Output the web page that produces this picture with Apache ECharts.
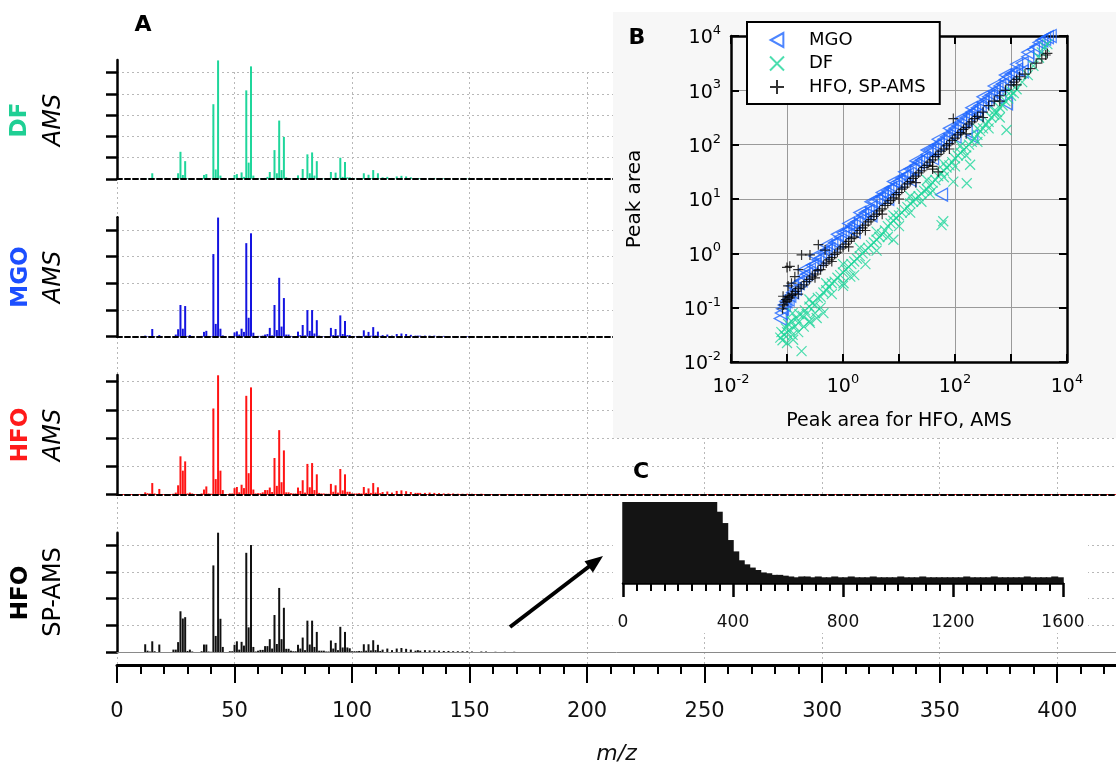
<!DOCTYPE html>
<html><head><meta charset="utf-8">
<script src="https://cdn.jsdelivr.net/npm/echarts@6/dist/echarts.min.js"></script>
<style>html,body{margin:0;padding:0;background:#fff}#c{width:1116px;height:770px}</style>
</head><body><div id="c"></div>
<script>
// ---------- Panel A : unit-mass spectra (arbitrary units, 1 unit = one y tick) ----------
const mz = [12,13,14,15,16,18,24,25,26,27,
  28,29,30,31,32,36,37,38,39,40,
  41,42,43,44,45,48,49,50,51,52,
  53,54,55,56,57,58,59,60,61,62,
  63,64,65,66,67,68,69,70,71,72,
  73,74,75,76,77,78,79,80,81,82,
  83,84,85,86,87,88,89,90,91,92,
  93,94,95,96,97,98,99,100,101,102,
  103,104,105,106,107,108,109,110,111,112,
  113,115,117,119,121,123,125,127,128,129,
  131,133,135,137,139,141,143,145,147,149,
  151,155,157,161,165,169];
const dfAMS = [.02,.01,.02,.27,.02,.03,.01,.05,.27,1.28,
  .19,.84,.03,.03,.02,.03,.19,.23,.03,.02,
  3.52,.45,5.58,.16,.03,.02,.02,.19,.23,.05,
  .31,.10,4.17,.77,5.30,.16,.02,.02,.03,.03,
  .05,.10,.33,.05,1.36,.27,2.75,.42,1.98,.08,
  .05,.02,.02,.02,.17,.05,.47,.04,1.16,.27,
  1.25,.16,.84,.04,.02,.02,.02,.02,.33,.05,
  .30,.05,1.00,.10,.80,.08,.08,.02,.02,.02,
  .03,.02,.27,.04,.20,.04,.42,.05,.27,.03,
  .08,.10,.05,.12,.15,.12,.08,.04,.04,.04,
  .04,.05,.05,.04,.03,.02,.02,.02,.02,.02,
  .01,.01,.01,.01,.01,.01];
const mgoAMS = [.04,.02,.02,.29,.02,.06,.01,.08,.28,1.19,
  .30,1.15,.03,.06,.02,.03,.18,.22,.03,.02,
  3.10,.48,4.47,.30,.05,.02,.02,.16,.20,.08,
  .30,.18,3.51,.71,3.88,.15,.02,.03,.03,.04,
  .08,.10,.33,.05,1.19,.25,2.21,.38,1.45,.08,
  .08,.03,.02,.02,.19,.06,.44,.05,1.00,.22,
  1.00,.12,.62,.04,.02,.02,.02,.02,.33,.06,
  .29,.05,.80,.10,.59,.06,.06,.02,.02,.02,
  .03,.02,.24,.04,.18,.04,.36,.05,.19,.03,
  .06,.08,.04,.10,.12,.10,.07,.04,.04,.04,
  .04,.04,.04,.03,.03,.02,.02,.02,.02,.02,
  .01,.01,.01,.01,.01,.01];
const hfoAMS = [.07,.04,.03,.40,.03,.19,.02,.06,.32,1.35,
  .84,1.17,.03,.06,.03,.03,.17,.28,.03,.02,
  3.05,.54,4.23,.84,.15,.03,.03,.22,.26,.07,
  .34,.22,3.50,.75,3.80,.17,.03,.04,.04,.07,
  .15,.15,.24,.08,1.29,.30,2.28,.43,1.56,.07,
  .07,.04,.03,.03,.24,.12,.50,.06,1.08,.25,
  1.11,.15,.71,.05,.03,.03,.02,.02,.37,.09,
  .32,.06,.90,.14,.71,.09,.09,.03,.03,.03,
  .04,.03,.26,.05,.21,.05,.40,.06,.25,.04,
  .08,.10,.06,.12,.14,.11,.08,.05,.05,.05,
  .05,.06,.05,.04,.03,.03,.03,.02,.02,.02,
  .02,.02,.01,.01,.01,.01];
const hfoSP = [.30,.06,.03,.41,.04,.29,.10,.10,.38,1.53,
  1.26,1.31,.05,.10,.03,.04,.29,.29,.03,.02,
  3.24,.61,4.46,1.25,.20,.04,.04,.28,.41,.10,
  .39,.25,3.71,.93,4.00,.20,.03,.06,.09,.09,
  .23,.23,.49,.14,1.39,.31,2.40,.49,1.66,.13,
  .13,.06,.04,.04,.28,.14,.55,.08,1.18,.29,
  1.18,.20,.76,.06,.06,.06,.03,.03,.44,.14,
  .35,.08,.95,.18,.76,.18,.15,.04,.04,.04,
  .05,.04,.30,.06,.30,.07,.45,.08,.28,.05,
  .10,.14,.08,.14,.16,.13,.10,.06,.08,.06,
  .08,.07,.07,.06,.05,.05,.04,.04,.04,.04,
  .03,.03,.03,.02,.02,.02];
const mzTicks = [0,50,100,150,200,250,300,350,400];

// ---------- Panel B : peak areas, [log10 x, log10 y] ----------
const mgoLog = [[-1.12,-1.2],[-1.1,-1.1],[-1.08,-1.02],[-1.05,-0.95],[-1.02,-0.88],[-0.98,-0.85],[-0.95,-0.78],[-0.9,-0.72],[-0.85,-0.65],[-0.8,-0.55],
 [-0.75,-0.5],[-0.7,-0.42],[-0.65,-0.38],[-0.6,-0.3],[-0.55,-0.22],[-0.5,-0.2],[-0.45,-0.12],[-0.4,-0.08],[-0.35,0.0],[-0.3,0.05],
 [-0.25,0.08],[-0.2,0.15],[-0.15,0.2],[-0.1,0.22],[-0.05,0.3],[0.0,0.38],[0.05,0.4],[0.1,0.45],[0.15,0.5],[0.2,0.55],
 [0.25,0.58],[0.3,0.65],[0.35,0.7],[0.4,0.75],[0.45,0.78],[0.5,0.85],[0.55,0.95],[0.6,1.0],[0.65,1.0],[0.7,1.05],
 [0.75,1.1],[0.8,1.15],[0.85,1.2],[0.9,1.22],[0.95,1.3],[1.0,1.32],[1.05,1.38],[1.1,1.42],[1.15,1.45],[1.2,1.55],
 [1.25,1.55],[1.3,1.62],[1.35,1.68],[1.4,1.72],[1.45,1.75],[1.5,1.82],[1.55,1.9],[1.6,1.9],[1.65,1.98],[1.7,2.0],
 [1.75,2.05],[1.8,2.1],[1.85,2.15],[1.9,2.2],[1.95,2.25],[2.0,2.3],[2.05,2.35],[2.1,2.4],[2.15,2.45],[2.2,2.5],
 [2.25,2.55],[2.3,2.6],[2.35,2.62],[2.4,2.68],[2.45,2.72],[2.5,2.78],[2.55,2.82],[2.6,2.88],[2.65,2.92],[2.7,2.98],
 [2.75,3.02],[2.8,3.08],[2.85,3.12],[2.9,3.2],[2.95,3.25],[3.0,3.3],[3.05,3.32],[3.1,3.38],[3.2,3.5],[3.3,3.62],
 [3.4,3.75],[3.45,3.8],[3.5,3.88],[3.55,3.92],[3.6,3.95],[3.65,3.98],[3.7,4.0],
 [0.2,0.4],[0.5,0.7],[0.8,1.0],[1.2,1.35],[1.6,1.75],[2.0,2.15],[2.4,2.55],[2.8,2.9],[3.2,3.35],
 [-0.9,-0.6],[-0.7,-0.3],[-0.5,-0.05],[-0.3,0.15],[-0.1,0.35],[0.1,0.55],[0.3,0.75],[0.5,0.95],[0.7,1.12],[0.9,1.32],
 [1.1,1.5],[1.3,1.7],[1.5,1.9],[1.7,2.1],[1.9,2.3],[2.1,2.48],[2.3,2.68],[2.5,2.88],[2.7,3.08],[2.9,3.28],[3.1,3.48],[3.3,3.7],
 [1.76,1.08],[2.92,2.76],[2.3,2.15],[2.2,2.25]];
const dfLog = [[-1.12,-1.55],[-1.1,-1.45],[-1.08,-1.6],[-1.05,-1.5],[-1.02,-1.38],[-1.0,-1.45],[-0.98,-1.3],[-0.95,-1.41],[-0.92,-1.25],[-0.89,-1.59],
 [-0.86,-1.35],[-0.83,-1.2],[-0.8,-1.28],[-0.78,-1.12],[-0.74,-1.8],[-0.72,-1.15],[-0.68,-1.05],[-0.65,-1.12],[-0.6,-0.98],[-0.59,-1.28],
 [-0.55,-0.92],[-0.5,-0.95],[-0.47,-1.19],[-0.45,-0.82],[-0.4,-0.8],[-0.35,-1.1],[-0.35,-0.72],[-0.3,-0.68],[-0.25,-0.62],[-0.2,-0.55],
 [-0.15,-0.52],[-0.1,-0.45],[-0.05,-0.4],[0.0,-0.35],[0.01,-0.55],[0.05,-0.3],[0.1,-0.25],[0.13,-0.43],[0.15,-0.2],[0.2,-0.15],
 [0.25,-0.1],[0.3,-0.05],[0.35,0.0],[0.4,0.05],[0.45,0.1],[0.5,0.15],[0.55,0.2],[0.6,0.25],[0.65,0.3],[0.7,0.35],
 [0.75,0.42],[0.8,0.5],[0.85,0.55],[0.9,0.6],[0.9,0.25],[0.95,0.65],[1.0,0.7],[1.05,0.75],[1.1,0.8],[1.15,0.85],
 [1.2,0.92],[1.25,0.95],[1.3,1.0],[1.35,1.05],[1.4,1.1],[1.45,1.15],[1.5,1.18],[1.55,1.25],[1.55,1.1],[1.6,1.3],
 [1.65,1.35],[1.7,1.42],[1.75,1.48],[1.76,0.52],[1.79,0.59],[1.8,1.52],[1.85,1.58],[1.9,1.62],[1.95,1.68],[1.97,1.32],
 [2.0,1.75],[2.05,1.8],[2.1,1.85],[2.15,1.9],[2.2,1.95],[2.21,1.29],[2.25,2.0],[2.27,1.63],[2.3,2.05],[2.35,2.12],
 [2.4,2.18],[2.45,2.25],[2.5,2.3],[2.55,2.38],[2.6,2.42],[2.65,2.5],[2.7,2.55],[2.75,2.6],[2.8,2.68],[2.85,2.72],
 [2.9,2.8],[2.92,2.27],[2.95,2.85],[3.0,2.9],[3.05,2.95],[3.1,3.02],[3.2,3.15],[3.3,3.28],[3.4,3.45],[3.5,3.6],
 [3.55,3.7],[3.6,3.8],[3.65,3.85],
 [-0.9,-1.1],[-0.6,-0.85],[-0.3,-0.55],[0.0,-0.2],[0.3,0.1],[0.6,0.4],[0.9,0.7],[1.2,1.05],[1.5,1.35],[1.8,1.65],
 [2.1,1.98],[2.4,2.3],[2.7,2.62],[3.0,2.98],
 [-1.0,-1.65],[-0.9,-1.5],[-0.8,-1.45],[-0.7,-1.35],[-0.6,-1.25],[-0.5,-1.1],[-0.4,-1.0],[-0.2,-0.75],[0.0,-0.6],[0.2,-0.4],
 [0.4,-0.2],[0.6,0.05],[0.8,0.3],[1.0,0.5],[1.2,0.75],[1.4,0.95],[1.6,1.15],[1.8,1.4],[2.0,1.6],[2.2,1.8],[2.4,2.05],[2.6,2.3],[2.8,2.5]];
const spLog = [[-1.08,-1.02],[-1.06,-0.95],[-1.04,-0.9],[-1.02,-0.85],[-1.0,-0.88],[-0.98,-0.8],[-0.95,-0.82],[-0.92,-0.78],[-0.9,-0.75],[-0.85,-0.7],
 [-0.8,-0.65],[-0.75,-0.62],[-0.7,-0.58],[-0.65,-0.52],[-0.6,-0.48],[-0.55,-0.42],[-0.5,-0.38],[-0.45,-0.32],[-0.4,-0.3],[-0.35,-0.22],
 [-0.3,-0.18],[-0.25,-0.12],[-0.2,-0.08],[-0.15,-0.02],[-0.1,0.02],[-0.05,0.08],[0.0,0.12],[0.05,0.17],[0.1,0.22],[0.15,0.27],
 [0.2,0.3],[0.25,0.37],[0.3,0.42],[0.35,0.47],[0.4,0.52],[0.45,0.58],[0.5,0.62],[0.55,0.68],[0.6,0.72],[0.65,0.78],
 [0.7,0.82],[0.75,0.88],[0.8,0.92],[0.85,0.97],[0.9,1.02],[0.95,1.08],[1.0,1.12],[1.05,1.18],[1.1,1.22],[1.15,1.28],
 [1.2,1.32],[1.25,1.38],[1.3,1.42],[1.35,1.48],[1.4,1.52],[1.45,1.58],[1.5,1.62],[1.55,1.68],[1.6,1.72],[1.65,1.78],
 [1.7,1.82],[1.75,1.88],[1.8,1.92],[1.85,1.98],[1.9,2.02],[1.95,2.08],[2.0,2.12],[2.05,2.18],[2.1,2.22],[2.15,2.28],
 [2.2,2.32],[2.25,2.38],[2.3,2.42],[2.35,2.48],[2.4,2.52],[2.5,2.6],[2.6,2.72],[2.7,2.8],[2.8,2.9],[2.9,3.0],
 [3.0,3.1],[3.05,3.15],[3.1,3.2],[3.15,3.25],[3.25,3.3],[3.35,3.4],[3.45,3.5],[3.55,3.58],[3.62,3.65],[3.65,3.68],
 [-0.8,-0.75],[-0.5,-0.45],[-0.2,-0.15],[0.1,0.12],[0.4,0.42],[0.7,0.72],[1.0,1.0],[1.3,1.3],[1.6,1.6],[1.9,1.92],
 [2.2,2.2],[2.5,2.5],[2.8,2.8],[3.1,3.1],
 [-1.0,-0.26],[-0.95,-0.24],[-0.74,-0.03],[-0.59,-0.03],[-0.44,0.16],[-0.32,0.06],[-0.86,-0.43],[-0.92,-0.55],[-1.07,-0.79],[-0.98,-0.6],
 [-0.8,-0.3],[1.97,2.48],[1.7,1.5],[1.6,1.55]];

// ---------- Panel C : full SP-AMS spectrum, 20-u bins (100 = clipped top) ----------
const cMz = [10,30,50,70,90,110,130,150,170,190,210,230,250,270,290,310,330,350,370,390,
  410,430,450,470,490,510,530,550,570,590,610,630,650,670,690,710,730,750,770,790,
  810,830,850,870,890,910,930,950,970,990,1010,1030,1050,1070,1090,1110,1130,1150,1170,1190,
  1210,1230,1250,1270,1290,1310,1330,1350,1370,1390,1410,1430,1450,1470,1490,1510,1530,1550,1570,1590];
const cVal = [100,100,100,100,100,100,100,100,100,100,100,100,100,100,100,100,100,88,74,53,
  39,28,23,19,16,13,12,10,10,9,8,7,8,8,7,8,7,7,8,7,
  7,8,7,7,7,8,7,7,7,7,8,7,7,7,8,7,7,7,7,7,
  7,7,8,7,7,7,7,8,7,7,7,7,7,8,7,7,7,7,8,7];

const F = 'DejaVu Sans';
const pair = (xs, ys) => xs.map((x, i) => [x, ys[i]]);
const pow = arr => arr.map(p => [Math.pow(10, p[0]), Math.pow(10, p[1])]);

const grids = [
  {left:117, top:72, width:999, height:602},      // 0 background / main x axis
  {left:117, top:60, width:999, height:119},      // 1 DF data
  {left:117, top:72.7, width:999, height:106.3},  // 2 DF ticks
  {left:117, top:217.3, width:999, height:119.4}, // 3 MGO data
  {left:117, top:230, width:999, height:106.7},   // 4 MGO ticks
  {left:117, top:375, width:999, height:119.3},   // 5 HFO data
  {left:117, top:375, width:999, height:119.3},   // 6 HFO ticks (4 ticks inside 4.24 range)
  {left:117, top:532.7, width:999, height:119.6}, // 7 SP data
  {left:117, top:545, width:999, height:107.3},   // 8 SP ticks
  {left:731, top:36, width:336, height:326},      // 9 panel B
  {left:623, top:502, width:440, height:85}       // 10 panel C
];
// tick-grid heights for HFO recomputed to keep 4 ticks under the axis top
grids[6] = {left:117, top:381.7, width:999, height:112.6};

const dotted = {color:'#b8b8b8', width:1, type:[2,3]};
const baseStyles = [
  {color:'#000', width:2, type:[5,3]},
  {color:'#000', width:2, type:[5,3]},
  {color:'#000', width:2, type:[5,3]},
  {color:'#8a8a8a', width:1, type:'solid'}
];
const xAxes = [];
const yAxes = [];
// main bottom axis
xAxes.push({gridIndex:0, type:'value', min:0, max:425, interval:50,
  axisLine:{lineStyle:{color:'#000', width:3}},
  axisTick:{customValues:mzTicks, length:18, lineStyle:{color:'#000', width:2}},
  minorTick:{show:true, splitNumber:5, length:9, lineStyle:{color:'#000', width:2}},
  axisLabel:{customValues:mzTicks, fontSize:21, fontFamily:F, color:'#111', margin:36},
  splitLine:{show:true, lineStyle:dotted},
  name:'m/z', nameLocation:'middle', nameGap:78,
  nameTextStyle:{fontSize:22, fontStyle:'italic', fontFamily:F, color:'#111'}});
yAxes.push({gridIndex:0, type:'value', min:0, max:1, show:false});
const dataMax = [5.6, 4.48, 4.24, 4.46];
const tickMax = [5, 4, 4, 4];
for (let p = 0; p < 4; p++) {
  const gd = 1 + 2*p, gt = 2 + 2*p;
  xAxes.push({gridIndex:gd, type:'value', min:0, max:425, z:3,
    axisLine:{show:true, lineStyle:baseStyles[p]},
    axisTick:{show:false}, axisLabel:{show:false}, splitLine:{show:false}});
  yAxes.push({gridIndex:gd, type:'value', min:0, max:dataMax[p],
    axisLine:{show:true, lineStyle:{color:'#000', width:2.5}},
    axisTick:{show:false}, axisLabel:{show:false}, splitLine:{show:false}});
  // tick grid; for HFO its x axis line is the red baseline under the black dashes
  xAxes.push(p === 2
    ? {gridIndex:gt, type:'value', min:0, max:425, z:1,
       axisLine:{show:true, lineStyle:{color:'#ff2020', width:1.2}},
       axisTick:{show:false}, axisLabel:{show:false}, splitLine:{show:false}}
    : {gridIndex:gt, type:'value', min:0, max:425, show:false});
  yAxes.push({gridIndex:gt, type:'value', min:0, max:tickMax[p], interval:1,
    axisLine:{show:false},
    axisTick:{show:true, inside:false, length:11, lineStyle:{color:'#000', width:2.5}},
    axisLabel:{show:false},
    splitLine:{show:true, showMinLine:false, lineStyle:dotted}});
}
const supFmt = (odd) => function (v) {
  const e = Math.round(Math.log10(v));
  if (odd && e % 2 !== 0) return '';
  return '{b|10}{s|' + e + '}';
};
const rich = {b:{fontSize:19, fontFamily:F, color:'#000', lineHeight:24, verticalAlign:'bottom'},
              s:{fontSize:13, fontFamily:F, color:'#000', lineHeight:14, verticalAlign:'top'}};
// panel B axes
xAxes.push({gridIndex:9, type:'log', logBase:10, min:0.01, max:10000, splitNumber:6, z:12,
  axisLine:{lineStyle:{color:'#000', width:2.5}},
  axisTick:{inside:true, length:8, lineStyle:{color:'#000', width:2}},
  axisLabel:{formatter:supFmt(true), rich:rich, margin:11},
  splitLine:{show:true, lineStyle:{color:'#9a9a9a', width:1}},
  name:'Peak area for HFO, AMS', nameLocation:'middle', nameGap:50,
  nameTextStyle:{fontSize:19, fontFamily:F, color:'#000'}});
xAxes.push({gridIndex:9, type:'log', logBase:10, min:0.01, max:10000, splitNumber:6, position:'top', z:12,
  axisLine:{lineStyle:{color:'#000', width:2.5}},
  axisTick:{inside:true, length:8, lineStyle:{color:'#000', width:2}},
  axisLabel:{show:false}, splitLine:{show:false}});
yAxes.push({gridIndex:9, type:'log', logBase:10, min:0.01, max:10000, splitNumber:6, z:12,
  axisLine:{lineStyle:{color:'#000', width:2.5}},
  axisTick:{inside:true, length:8, lineStyle:{color:'#000', width:2}},
  axisLabel:{formatter:supFmt(false), rich:rich, margin:10},
  splitLine:{show:true, lineStyle:{color:'#9a9a9a', width:1}},
  name:'Peak area', nameLocation:'middle', nameGap:86,
  nameTextStyle:{fontSize:20, fontFamily:F, color:'#000'}});
yAxes.push({gridIndex:9, type:'log', logBase:10, min:0.01, max:10000, splitNumber:6, position:'right', z:12,
  axisLine:{lineStyle:{color:'#000', width:2.5}},
  axisTick:{inside:true, length:8, lineStyle:{color:'#000', width:2}},
  axisLabel:{show:false}, splitLine:{show:false}});
// panel C axes
xAxes.push({gridIndex:10, type:'value', min:0, max:1600, interval:400, z:12,
  axisLine:{lineStyle:{color:'#000', width:2.5}},
  axisTick:{length:14, lineStyle:{color:'#000', width:2.5}},
  minorTick:{show:true, splitNumber:8, length:8, lineStyle:{color:'#000', width:2}},
  axisLabel:{fontSize:17, fontFamily:F, color:'#111', margin:27, formatter:v => String(v)},
  splitLine:{show:false}});
yAxes.push({gridIndex:10, type:'value', min:-5, max:100, show:false});

const triPath = 'path://M10,0L0,5.5L10,11Z';
const xPath = 'path://M0,0L10,10M10,0L0,10';
const plusPath = 'path://M5,0L5,10M0,5L10,5';

const series = [
  {type:'bar', name:'DF AMS', xAxisIndex:1, yAxisIndex:1, data:pair(mz, dfAMS), barWidth:2, itemStyle:{color:'#1fd69b'}},
  {type:'bar', name:'MGO AMS', xAxisIndex:3, yAxisIndex:3, data:pair(mz, mgoAMS), barWidth:2, itemStyle:{color:'#1414e0'}},
  {type:'bar', name:'HFO AMS', xAxisIndex:5, yAxisIndex:5, data:pair(mz, hfoAMS), barWidth:2, itemStyle:{color:'#ff1414'}},
  {type:'bar', name:'HFO SP-AMS', xAxisIndex:7, yAxisIndex:7, data:pair(mz, hfoSP), barWidth:2, itemStyle:{color:'#111'}},
  {type:'scatter', name:'MGO', xAxisIndex:9, yAxisIndex:9, data:pow(mgoLog), symbol:triPath, symbolSize:[12,13], z:13,
    itemStyle:{color:'rgba(0,0,0,0)', borderColor:'#1f66ff', borderWidth:1.3}},
  {type:'scatter', name:'DF', xAxisIndex:9, yAxisIndex:9, data:pow(dfLog), symbol:xPath, symbolSize:10, z:14,
    itemStyle:{color:'rgba(0,0,0,0)', borderColor:'#1fd69b', borderWidth:1.2}},
  {type:'scatter', name:'HFO, SP-AMS', xAxisIndex:9, yAxisIndex:9, data:pow(spLog), symbol:plusPath, symbolSize:10, z:15,
    itemStyle:{color:'rgba(0,0,0,0)', borderColor:'#000', borderWidth:1.2}},
  {type:'bar', name:'C', xAxisIndex:11, yAxisIndex:11, data:pair(cMz, cVal), barWidth:7, z:13, itemStyle:{color:'#141414'}}
];

const rotText = (x, y, text, font, fill) => ({type:'text', x:x, y:y, rotation:Math.PI/2, z:1,
  style:{text:text, font:font, fill:fill, align:'center', verticalAlign:'middle'}});
const txt = (x, y, text, font, z) => ({type:'text', x:x, y:y, z:z,
  style:{text:text, font:font, fill:'#000', align:'center', verticalAlign:'middle'}});

const graphic = [
  {type:'rect', shape:{x:613, y:12, width:503, height:426}, style:{fill:'#f7f7f7'}, z:10},
  {type:'rect', shape:{x:613, y:497, width:475, height:136}, style:{fill:'#ffffff'}, z:10},
  {type:'line', shape:{x1:510, y1:627, x2:591, y2:565}, style:{stroke:'#000', lineWidth:4}, z:11},
  {type:'polygon', shape:{points:[[603,556],[592.9,572.5],[584.5,561.3]]}, style:{fill:'#000'}, z:11},
  txt(143, 25, 'A', 'bold 22px ' + F, 1),
  txt(637, 38, 'B', 'bold 22px ' + F, 20),
  txt(641, 472, 'C', 'bold 22px ' + F, 20),
  rotText(20, 120, 'DF', 'bold 23px ' + F, '#1fcf94'),
  rotText(54, 120, 'AMS', 'italic 24px ' + F, '#000'),
  rotText(21, 277, 'MGO', 'bold 23px ' + F, '#1c4fff'),
  rotText(54, 277, 'AMS', 'italic 24px ' + F, '#000'),
  rotText(21, 435, 'HFO', 'bold 23px ' + F, '#ff1a1a'),
  rotText(54, 435, 'AMS', 'italic 24px ' + F, '#000'),
  rotText(21, 593, 'HFO', 'bold 23px ' + F, '#000'),
  rotText(54, 592, 'SP-AMS', '24px ' + F, '#000')
];

const chart = echarts.init(document.getElementById('c'), null, {renderer:'canvas'});
chart.setOption({
  animation:false,
  backgroundColor:'#fff',
  grid:grids,
  xAxis:xAxes,
  yAxis:yAxes,
  series:series,
  legend:{show:true, orient:'vertical', left:747, top:22, z:20,
    data:[{name:'MGO', icon:triPath}, {name:'DF', icon:xPath}, {name:'HFO, SP-AMS', icon:plusPath}],
    itemWidth:14, itemHeight:14, itemGap:5.5, padding:[9, 14, 8, 22],
    backgroundColor:'#fff', borderColor:'#000', borderWidth:2, borderRadius:0,
    textStyle:{fontSize:18, fontFamily:F, color:'#000', padding:[0,0,0,20]}},
  graphic:graphic
});
</script>
</body></html>
